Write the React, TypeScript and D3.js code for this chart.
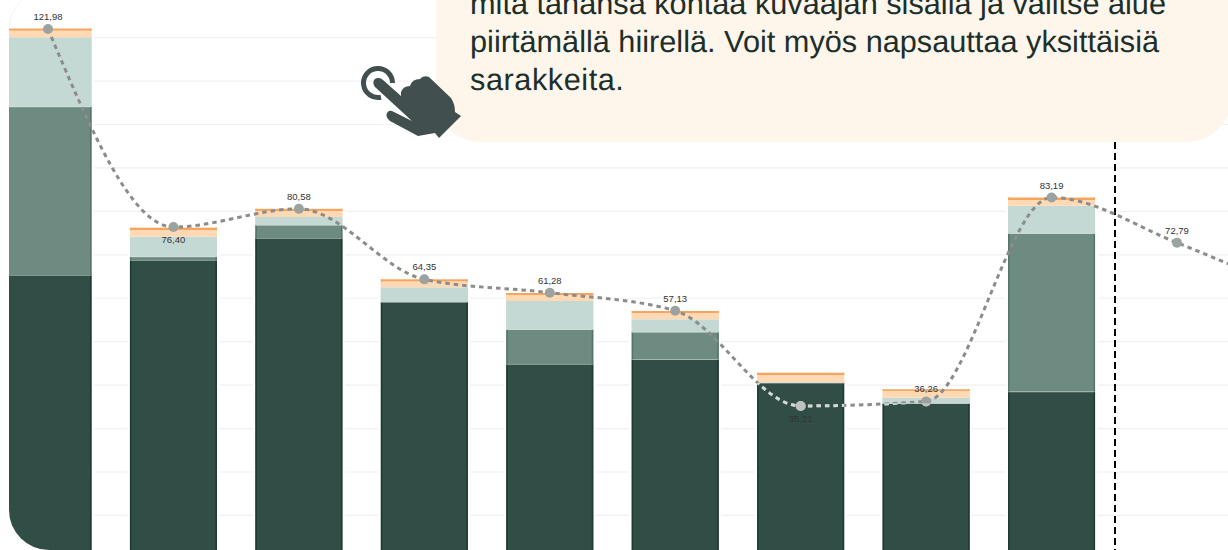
import React from 'react';
import * as d3 from 'd3';

// Arvot luettu kuvasta
const positions = [0, 1, 2, 3, 4, 5, 6, 7, 8, 9];
const darkValues = [65.35, 68.8, 73.87, 59.14, 44.87, 45.95, 40.56, 35.82, 38.54];
const midValues = [38.79, 0.8, 3.0, 0, 7.98, 6.28, 0, 0, 36.41];
const lightValues = [15.93, 4.6, 1.84, 3.38, 6.52, 2.93, 0.1, 1.29, 6.35];
const peachValues = [1.52, 1.5, 1.38, 1.34, 1.38, 1.44, 1.67, 1.55, 1.31];
const orangeValues = [0.5, 0.55, 0.5, 0.5, 0.46, 0.46, 0.53, 0.39, 0.57];
const lineValues = [121.98, 76.4, 80.58, 64.35, 61.28, 57.13, 35.21, 36.26, 83.19, 72.79, 60.4];
const labelBelow = [false, true, false, false, false, false, true, false, false, false];
const gridValues = [10, 20, 30, 40, 50, 60, 70, 80, 90, 100, 110, 120];
const calloutLines = [
  'mitä tahansa kohtaa kuvaajan sisällä ja valitse alue',
  'piirtämällä hiirellä. Voit myös napsauttaa yksittäisiä',
  'sarakkeita.',
];

const width = 1228;
const height = 550;

const x = d3.scaleLinear().domain([0, 9]).range([48, 1177]);
const y = d3.scaleLinear().domain([0, 121.98]).range([558.9, 29]);
const barWidth = 87;

const segments = [
  { values: darkValues, fill: '#304e46', edge: '#1f3a33' },
  { values: midValues, fill: '#6d8b80', edge: '#56756a' },
  { values: lightValues, fill: '#c4d9d3', edge: '#c4d9d3' },
  { values: peachValues, fill: '#ffd9b3', edge: '#ffd9b3' },
  { values: orangeValues, fill: '#f5a55f', edge: '#f5a55f' },
];

const line = d3.line<number>()
  .x((_, i) => x(i))
  .y(d => y(d))
  .curve(d3.curveMonotoneX);

function Bars() {
  return (
    <g clipPath="url(#plot-clip)">
      {darkValues.map((_, i) => {
        let total = 0;
        const left = x(i) - barWidth / 2;
        const top = orangeValues[i] + peachValues[i] + lightValues[i] + midValues[i] + darkValues[i];
        return (
          <g key={i}>
            <rect x={left - 1} y={y(top) - 1} width={barWidth + 2} height={y(0) - y(top) + 2} fill="none" stroke="#fff" strokeWidth={3} />
            {segments.map((s, j) => {
              const v = s.values[i];
              const y0 = y(total);
              total += v;
              const y1 = y(total);
              if (v === 0) return null;
              return (
                <g key={j}>
                  <rect x={left} y={y1} width={barWidth} height={y0 - y1} fill={s.fill} />
                  <rect x={left} y={y1} width={1.5} height={y0 - y1} fill={s.edge} />
                  <rect x={left + barWidth - 1.5} y={y1} width={1.5} height={y0 - y1} fill={s.edge} />
                  {j < 2 && <line x1={left} x2={left + barWidth} y1={y1} y2={y1} stroke="#fff" strokeOpacity={0.55} strokeWidth={1.5} />}
                </g>
              );
            })}
          </g>
        );
      })}
    </g>
  );
}

// Viiva ja pisteet: tumman palkin päällä vaaleampi väri
function Trend({ stroke, dot, clip }: { stroke: string; dot: string; clip?: string }) {
  return (
    <g clipPath={clip}>
      <path d={line(lineValues) ?? ''} fill="none" stroke={stroke} strokeWidth={3} strokeDasharray="4.5 4" />
      {positions.map(i => (
        <circle key={i} cx={x(i)} cy={y(lineValues[i])} r={5} fill={dot} />
      ))}
    </g>
  );
}

export default function App() {
  return (
    <svg
      width={width}
      height={height}
      style={{ position: 'absolute', left: 0, top: 0, display: 'block', fontFamily: '"Liberation Sans", Arial, sans-serif' }}
    >
      <defs>
        <clipPath id="plot-clip">
          <path d={`M9 0 H${width} V${height} H49 A40 40 0 0 1 9 510 Z`} />
        </clipPath>
        <clipPath id="dark-clip">
          {darkValues.map((v, i) => (
            <rect key={i} x={x(i) - barWidth / 2} y={y(v)} width={barWidth} height={y(0) - y(v)} />
          ))}
        </clipPath>
      </defs>

      <path d="M9 30 A40 40 0 0 1 22 0" fill="none" stroke="#f3f3f3" strokeWidth={1} />

      {gridValues.map(v => (
        <line key={v} x1={9} x2={width} y1={y(v)} y2={y(v)} stroke="#f0f0f0" strokeWidth={1.2} />
      ))}

      <Bars />

      <line x1={1115} x2={1115} y1={142} y2={height} stroke="#000" strokeWidth={2} strokeDasharray="7 4" />

      <Trend stroke="#8c8c8c" dot="#9ba3a0" />
      <Trend stroke="#d4d8d6" dot="#bcc2bf" clip="url(#dark-clip)" />

      {positions.map(i => (
        <text
          key={i}
          x={x(i)}
          y={labelBelow[i] ? y(lineValues[i]) + 16 : y(lineValues[i]) - 9}
          textAnchor="middle"
          fontSize={9.5}
          fill="#333"
        >
          {d3.format('.2f')(lineValues[i]).replace('.', ',')}
        </text>
      ))}

      {/* Ohjelaatikko */}
      <rect x={436} y={-60} width={796} height={202} rx={45} ry={45} fill="#fef5eb" />
      {calloutLines.map((t, i) => (
        <text
          key={i}
          x={470}
          y={14 + i * 38}
          fontSize={30.7}
          letterSpacing={i === 2 ? 0.55 : 0}
          textRendering="geometricPrecision"
          fill="#1c2f2b"
        >
          {t}
        </text>
      ))}

      {/* Käsi-ikoni */}
      <path d="M392.5 83 A14.5 14.5 0 1 0 381 97.2" fill="none" stroke="#414f4f" strokeWidth={5} />
      <path
        d="M375 87 C372 83 373.5 78 378 78 Q380.5 77.5 383 80 L401 96 L401 92 Q403 86 410 86 Q412 79 420 79 Q423 75 429 77 L451 98 Q455 104 455 112 L461 116 L439 138 L435 133 L418 136 L390 121 Q385 117 387 113 Q389 109 394 112 L412 121 Z"
        fill="#414f4f"
      />
    </svg>
  );
}
